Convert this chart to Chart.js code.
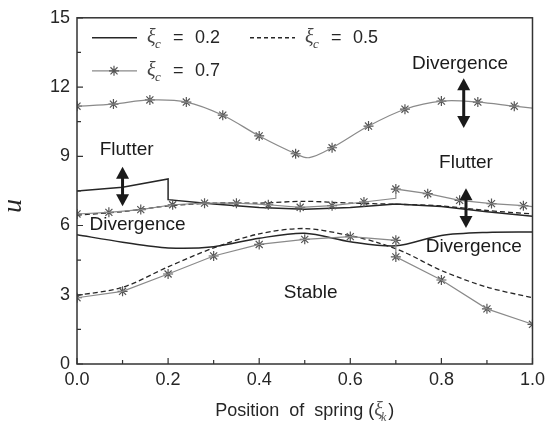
<!DOCTYPE html>
<html>
<head>
<meta charset="utf-8">
<script src="https://cdn.jsdelivr.net/npm/chart.js@4.4.1/dist/chart.umd.min.js"></script>
<style>
  html, body { margin: 0; padding: 0; background: #fff; }
</style>
</head>
<body>
<canvas id="chart" width="550" height="432"></canvas>
<script>
// ticks
const xTicks = [0, 0.2, 0.4, 0.6, 0.8, 1.0];
const xMinorTicks = [0.1, 0.3, 0.5, 0.7, 0.9];
const yTicks = [0, 3, 6, 9, 12, 15];
const yMinorTicks = [1.5, 4.5, 7.5, 10.5, 13.5];

// xi_c = 0.2 (solid line)
const c02UpperX = [0, 0.1, 0.2, 0.2, 0.3, 0.4, 0.5, 0.6, 0.7, 0.8, 0.9, 1.0];
const c02UpperY = [7.5, 7.66, 8.02, 7.12, 6.93, 6.78, 6.7, 6.78, 6.93, 6.82, 6.6, 6.4];
const c02LowerX = [0, 0.1, 0.2, 0.3, 0.4, 0.5, 0.6, 0.7, 0.8, 0.9, 1.0];
const c02LowerY = [5.6, 5.28, 5.03, 5.08, 5.45, 5.66, 5.3, 5.12, 5.57, 5.7, 5.72];

// xi_c = 0.5 (dashed line)
const c05UpperX = [0, 0.1, 0.2, 0.3, 0.4, 0.5, 0.6, 0.7, 0.8, 0.9, 1.0];
const c05UpperY = [6.45, 6.6, 6.85, 6.97, 6.97, 7.05, 6.97, 6.92, 6.85, 6.65, 6.5];
const c05LowerX = [0, 0.1, 0.2, 0.3, 0.4, 0.5, 0.6, 0.66, 0.72, 0.8, 0.9, 1.0];
const c05LowerY = [2.97, 3.32, 4.21, 5.03, 5.64, 5.87, 5.56, 5.26, 4.83, 4.05, 3.33, 2.87];

// xi_c = 0.7 (grey line with star markers)
const c07TopX = [0, 0.08, 0.16, 0.24, 0.32, 0.40, 0.48, 0.51, 0.56, 0.64, 0.72, 0.80, 0.88, 0.96, 1.0];
const c07TopY = [11.17, 11.26, 11.44, 11.35, 10.78, 9.88, 9.11, 8.94, 9.37, 10.31, 11.04, 11.39, 11.35, 11.17, 11.09];
const c07TopMarkX = [0, 0.08, 0.16, 0.24, 0.32, 0.40, 0.48, 0.56, 0.64, 0.72, 0.80, 0.88, 0.96];
const c07TopMarkY = [11.17, 11.26, 11.44, 11.35, 10.78, 9.88, 9.11, 9.37, 10.31, 11.04, 11.39, 11.35, 11.17];

const c07MidX = [0, 0.07, 0.14, 0.21, 0.28, 0.35, 0.42, 0.49, 0.56, 0.63, 0.70, 0.70, 0.77, 0.84, 0.91, 0.98, 1.0];
const c07MidY = [6.5, 6.57, 6.69, 6.9, 6.97, 6.97, 6.9, 6.79, 6.86, 7.02, 7.18, 7.58, 7.38, 7.09, 6.95, 6.86, 6.82];
const c07MidMarkX = [0, 0.07, 0.14, 0.21, 0.28, 0.35, 0.42, 0.49, 0.56, 0.63, 0.70, 0.77, 0.84, 0.91, 0.98];
const c07MidMarkY = [6.5, 6.57, 6.69, 6.9, 6.97, 6.97, 6.9, 6.79, 6.86, 7.02, 7.58, 7.38, 7.09, 6.95, 6.86];

const c07LowX = [0, 0.1, 0.2, 0.3, 0.4, 0.5, 0.6, 0.7, 0.7, 0.8, 0.9, 1.0];
const c07LowY = [2.87, 3.15, 3.9, 4.68, 5.18, 5.4, 5.52, 5.36, 4.64, 3.64, 2.39, 1.72];

// region labels and arrows (data units)
const notes = [
  { text: 'Flutter', x: 0.109, y: 9.07 },
  { text: 'Divergence', x: 0.841, y: 12.76 },
  { text: 'Flutter', x: 0.854, y: 8.51 },
  { text: 'Divergence', x: 0.133, y: 5.80 },
  { text: 'Divergence', x: 0.871, y: 4.86 },
  { text: 'Stable', x: 0.513, y: 2.84 }
];
const arrows = [
  { x: 0.100, y1: 8.55, y2: 6.83 },
  { x: 0.849, y1: 12.38, y2: 10.23 },
  { x: 0.854, y1: 7.61, y2: 5.89 }
];

const SANS = "'Liberation Sans', Arial, sans-serif";
const SERIF = "'Liberation Serif', 'Times New Roman', serif";
const INK = '#262626';
const GREY = '#8a8a8a';

function pts(xs, ys) {
  return xs.map((x, i) => ({ x: x, y: ys[i] }));
}

function lineSet(data, opts) {
  return Object.assign({
    type: 'line',
    data: data,
    borderColor: INK,
    borderWidth: 1.5,
    pointRadius: 0,
    tension: 0,
    fill: false
  }, opts);
}

function markSet(data) {
  return {
    type: 'line',
    data: data,
    showLine: false,
    pointStyle: 'star',
    pointRadius: 5,
    pointBorderWidth: 1.2,
    pointBorderColor: '#555',
    pointBackgroundColor: '#555'
  };
}

function drawArrow(ctx, x, ya, yb) {
  const top = Math.min(ya, yb), bot = Math.max(ya, yb);
  const headL = 12, headW = 6.5;
  ctx.save();
  ctx.fillStyle = '#1a1a1a';
  ctx.strokeStyle = '#1a1a1a';
  ctx.lineWidth = 3;
  ctx.beginPath();
  ctx.moveTo(x, top + headL - 1);
  ctx.lineTo(x, bot - headL + 1);
  ctx.stroke();
  ctx.beginPath();
  ctx.moveTo(x, top);
  ctx.lineTo(x - headW, top + headL);
  ctx.lineTo(x + headW, top + headL);
  ctx.closePath();
  ctx.fill();
  ctx.beginPath();
  ctx.moveTo(x, bot);
  ctx.lineTo(x - headW, bot - headL);
  ctx.lineTo(x + headW, bot - headL);
  ctx.closePath();
  ctx.fill();
  ctx.restore();
}

// xi with subscript, then "= value"
function drawXiLabel(ctx, x, y, sub, value) {
  ctx.fillStyle = '#444';
  ctx.textBaseline = 'middle';
  ctx.textAlign = 'left';
  ctx.font = 'italic 20px ' + SERIF;
  ctx.fillText('\u03BE', x, y);
  ctx.font = 'italic 13px ' + SERIF;
  ctx.fillText(sub, x + 8, y + 7);
  ctx.fillStyle = INK;
  ctx.font = '18px ' + SANS;
  ctx.fillText('=', x + 26, y);
  ctx.fillText(value, x + 48, y);
}

const decorPlugin = {
  id: 'decor',
  afterDatasetsDraw(chart) {
    const ctx = chart.ctx;
    const a = chart.chartArea;
    const xs = chart.scales.x, ys = chart.scales.y;
    ctx.save();

    // frame
    ctx.strokeStyle = '#333';
    ctx.lineWidth = 1.5;
    ctx.strokeRect(a.left, a.top, a.right - a.left, a.bottom - a.top);

    // inward ticks on left and bottom
    ctx.lineWidth = 1.2;
    ctx.beginPath();
    xTicks.forEach(v => { const p = xs.getPixelForValue(v); ctx.moveTo(p, a.bottom); ctx.lineTo(p, a.bottom - 6); });
    xMinorTicks.forEach(v => { const p = xs.getPixelForValue(v); ctx.moveTo(p, a.bottom); ctx.lineTo(p, a.bottom - 4); });
    yTicks.forEach(v => { const p = ys.getPixelForValue(v); ctx.moveTo(a.left, p); ctx.lineTo(a.left + 6, p); });
    yMinorTicks.forEach(v => { const p = ys.getPixelForValue(v); ctx.moveTo(a.left, p); ctx.lineTo(a.left + 4, p); });
    ctx.stroke();

    // region labels
    ctx.fillStyle = '#1a1a1a';
    ctx.font = '19px ' + SANS;
    ctx.textAlign = 'center';
    ctx.textBaseline = 'alphabetic';
    notes.forEach(n => ctx.fillText(n.text, xs.getPixelForValue(n.x), ys.getPixelForValue(n.y)));

    arrows.forEach(ar => drawArrow(ctx, xs.getPixelForValue(ar.x), ys.getPixelForValue(ar.y1), ys.getPixelForValue(ar.y2)));

    // legend
    const r1 = a.top + 20, r2 = a.top + 53;
    ctx.lineWidth = 1.5;
    ctx.strokeStyle = INK;
    ctx.beginPath(); ctx.moveTo(a.left + 15, r1); ctx.lineTo(a.left + 60, r1); ctx.stroke();
    drawXiLabel(ctx, a.left + 70, r1, 'c', '0.2');

    ctx.setLineDash([4, 3]);
    ctx.beginPath(); ctx.moveTo(a.left + 173, r1); ctx.lineTo(a.left + 218, r1); ctx.stroke();
    ctx.setLineDash([]);
    drawXiLabel(ctx, a.left + 228, r1, 'c', '0.5');

    ctx.strokeStyle = GREY;
    ctx.lineWidth = 1.2;
    ctx.beginPath(); ctx.moveTo(a.left + 15, r2); ctx.lineTo(a.left + 60, r2); ctx.stroke();
    // star marker sample
    const sx = a.left + 37;
    ctx.strokeStyle = '#555';
    ctx.beginPath();
    for (let k = 0; k < 4; k++) {
      const ang = k * Math.PI / 4;
      ctx.moveTo(sx - 5 * Math.cos(ang), r2 - 5 * Math.sin(ang));
      ctx.lineTo(sx + 5 * Math.cos(ang), r2 + 5 * Math.sin(ang));
    }
    ctx.stroke();
    drawXiLabel(ctx, a.left + 70, r2, 'c', '0.7');

    // x axis title
    const mid = (a.left + a.right) / 2;
    const base = a.bottom + 52;
    ctx.fillStyle = INK;
    ctx.textBaseline = 'alphabetic';
    ctx.textAlign = 'left';
    const part1 = 'Position  of  spring (';
    ctx.font = '18px ' + SANS;
    const w1 = ctx.measureText(part1).width;
    ctx.font = 'italic 20px ' + SERIF;
    const wXi = ctx.measureText('\u03BE').width;
    ctx.font = 'italic 12px ' + SERIF;
    const wK = ctx.measureText('k').width;
    ctx.font = '18px ' + SANS;
    const wP = ctx.measureText(')').width;
    let cx = mid - (w1 + wXi + wK + wP) / 2;
    ctx.fillText(part1, cx, base); cx += w1;
    ctx.fillStyle = '#555';
    ctx.font = 'italic 20px ' + SERIF;
    ctx.fillText('\u03BE', cx, base); cx += wXi - 2;
    ctx.font = 'italic 12px ' + SERIF;
    ctx.fillText('k', cx, base + 5); cx += wK + 2;
    ctx.fillStyle = INK;
    ctx.font = '18px ' + SANS;
    ctx.fillText(')', cx, base);

    // y axis title
    ctx.translate(14, (a.top + a.bottom) / 2 + 15);
    ctx.rotate(-Math.PI / 2);
    ctx.textAlign = 'center';
    ctx.textBaseline = 'middle';
    ctx.font = 'italic 28px ' + SERIF;
    ctx.fillText('u', 0, 0);
    ctx.restore();
  }
};

Chart.defaults.font.family = SANS;

new Chart(document.getElementById('chart'), {
  type: 'line',
  data: {
    datasets: [
      lineSet(pts(c07TopX, c07TopY), { borderColor: GREY, borderWidth: 1.2, tension: 0.35 }),
      markSet(pts(c07TopMarkX, c07TopMarkY)),
      lineSet(pts(c07MidX, c07MidY), { borderColor: GREY, borderWidth: 1.2 }),
      markSet(pts(c07MidMarkX, c07MidMarkY)),
      lineSet(pts(c07LowX, c07LowY), { borderColor: GREY, borderWidth: 1.2 }),
      markSet(pts(c07LowX, c07LowY)),
      lineSet(pts(c05UpperX, c05UpperY), { borderDash: [5, 3], borderWidth: 1.3, tension: 0.3 }),
      lineSet(pts(c05LowerX, c05LowerY), { borderDash: [5, 3], borderWidth: 1.3, tension: 0.3 }),
      lineSet(pts(c02UpperX, c02UpperY)),
      lineSet(pts(c02LowerX, c02LowerY), { tension: 0.3 })
    ]
  },
  options: {
    responsive: false,
    animation: false,
    devicePixelRatio: 1,
    layout: { padding: { left: 0, right: 15, top: 15, bottom: 0 } },
    plugins: {
      legend: { display: false },
      tooltip: { enabled: false }
    },
    scales: {
      x: {
        type: 'linear',
        min: 0,
        max: 1,
        afterBuildTicks: s => { s.ticks = xTicks.map(v => ({ value: v })); },
        afterFit: s => { s.height = 68; },
        grid: { display: false, drawTicks: false },
        border: { display: false },
        ticks: {
          padding: 5,
          color: INK,
          font: { size: 18 },
          callback: v => v.toFixed(1)
        }
      },
      y: {
        type: 'linear',
        min: 0,
        max: 15,
        afterBuildTicks: s => { s.ticks = yTicks.map(v => ({ value: v })); },
        afterFit: s => { s.width = 77; },
        grid: { display: false, drawTicks: false },
        border: { display: false },
        ticks: {
          padding: 7,
          color: INK,
          font: { size: 18 }
        }
      }
    }
  },
  plugins: [decorPlugin]
});
</script>
</body>
</html>
